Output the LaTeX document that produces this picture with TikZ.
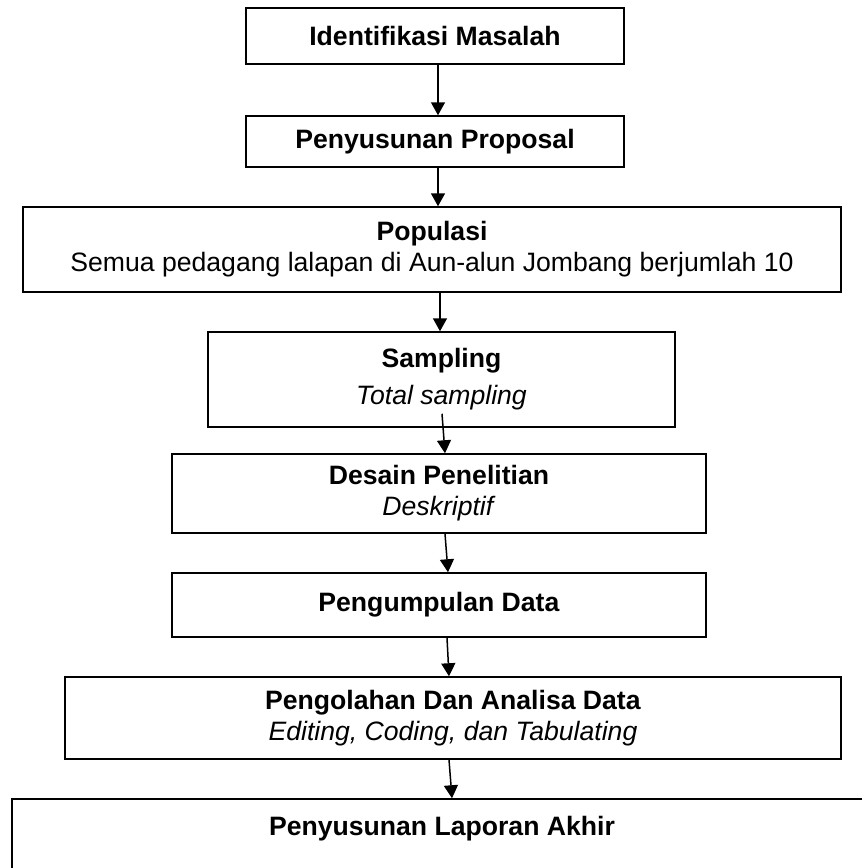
\documentclass[tikz,border=0pt]{standalone}
\usepackage{fontspec}
\setmainfont{Liberation Sans}
\usetikzlibrary{arrows.meta}
\tikzset{box/.style={draw, line width=0.75pt, align=center, inner sep=0pt,
        font=\fontsize{13.3}{15.5}\selectfont},
    arr/.style={-{Triangle[length=6.5pt,width=7pt]}, line width=0.75pt},
    }

\begin{document}
\begin{tikzpicture}[x=0.5pt,y=-0.5pt]
	\useasboundingbox (0,0) rectangle (862,868);
	\clip (0,0) rectangle (862,868);
	\node[box, minimum width=189pt, minimum height=28pt] (ident) at (435,36) {\textbf{Identifikasi Masalah}};
	\node[box, minimum width=189pt, minimum height=25.5pt] (proposal) at (435,141.5) {\textbf{Penyusunan Proposal}};
	\node[box, minimum width=409pt, minimum height=42.5pt] (populasi) at (432,249.5)
		{\textbf{Populasi}\\ Semua pedagang lalapan di Aun-alun Jombang berjumlah 10};
	\node[box, minimum width=233.5pt, minimum height=47.5pt] (sampling) at (441.5,379.5)
		{\textbf{Sampling}\\[3pt] \textit{Total sampling}};
	\node[box, minimum width=267pt, minimum height=39.5pt] (desain) at (439,493.5)
		{\textbf{Desain Penelitian}\\ \textit{Deskriptif}};
	\node[box, minimum width=267pt, minimum height=32pt] (kumpul) at (439,605) {\textbf{Pengumpulan Data}};
	\node[box, minimum width=388pt, minimum height=41pt] (olah) at (453,718)
		{\textbf{Pengolahan Dan Analisa Data}\\ \textit{Editing, Coding, dan Tabulating}};
	\node[box, minimum width=430pt, minimum height=42pt] (laporan) at (442,841)
		{\textbf{Penyusunan Laporan Akhir}\\ \mbox{}};
	%arrows
	\draw[arr] ([xshift=1.5pt]ident.south) -- ([xshift=1.5pt]proposal.north);
	\draw[arr] ([xshift=1.5pt]proposal.south) -- ([xshift=3pt]populasi.north);
	\draw[arr] ([xshift=4pt]populasi.south) -- ([xshift=-0.75pt]sampling.north);
	\draw[arr] ([xshift=0.25pt,yshift=7pt]sampling.south) -- ([xshift=3pt]desain.north);
	\draw[arr] ([xshift=3pt]desain.south) -- ([xshift=4.5pt]kumpul.north);
	\draw[arr] ([xshift=4pt]kumpul.south) -- ([xshift=-2pt]olah.north);
	\draw[arr] ([xshift=-2pt]olah.south) -- ([xshift=5pt]laporan.north);
\end{tikzpicture}
\end{document}
